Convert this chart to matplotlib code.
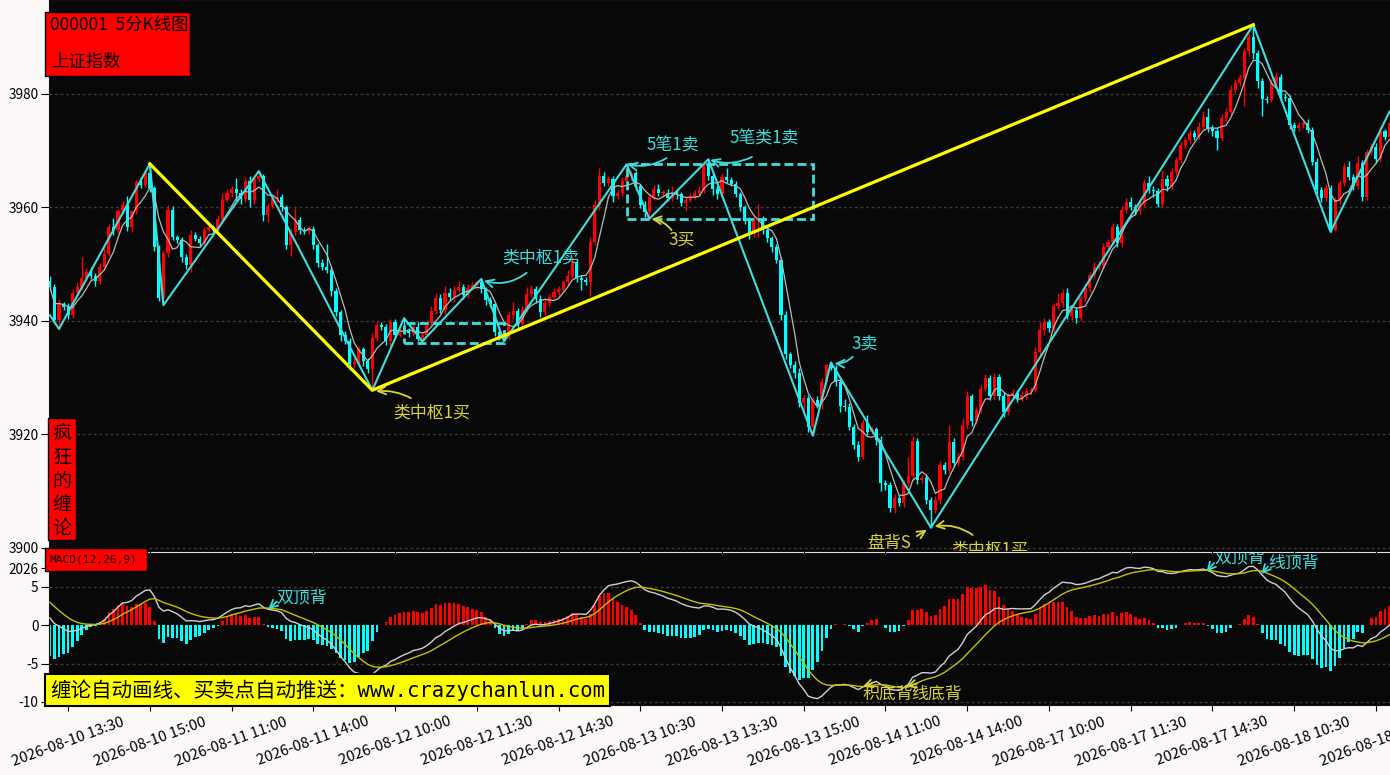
import numpy as np
import pandas as pd
import matplotlib
matplotlib.use("Agg")
import matplotlib.pyplot as plt
from matplotlib.patches import Rectangle

plt.rcParams["font.family"] = ["Noto Sans CJK SC", "DejaVu Sans"]
plt.rcParams["axes.unicode_minus"] = False

# ---- data (5 minute bars, one list per trading day) ----
DAYS = ["2026-08-10", "2026-08-11", "2026-08-12", "2026-08-13",
        "2026-08-14", "2026-08-17", "2026-08-18"]
FIRST_BAR = "2026-08-10 13:10"
FIRST_OPEN = 3947.0

C_0810 = [3946.0, 3940.2, 3943.0, 3942.5, 3941.0, 3945.0, 3946.0, 3947.5, 3948.7, 3948.0,
          3947.0, 3949.6, 3951.8, 3956.6, 3956.0, 3959.3, 3960.4, 3956.5, 3959.3, 3964.5,
          3964.0, 3966.0, 3963.5]
C_0811 = [3953.0, 3944.0, 3952.0, 3959.5, 3954.8, 3954.2, 3951.3, 3949.9, 3955.2, 3954.5,
          3953.8, 3956.0, 3956.5, 3956.0, 3958.0, 3961.3, 3962.5, 3963.2, 3962.6, 3961.5,
          3964.6, 3961.3, 3965.0, 3965.5, 3958.7, 3960.3, 3961.5, 3961.9, 3960.1, 3953.4,
          3955.7, 3957.8, 3956.0, 3955.8, 3956.2, 3953.4, 3950.2, 3949.5, 3949.0, 3945.3,
          3941.6, 3937.5, 3936.5, 3932.5, 3932.8, 3935.0, 3933.0, 3931.5]
C_0812 = [3937.0, 3939.3, 3938.9, 3936.5, 3939.8, 3937.5, 3938.6, 3938.3, 3937.8, 3939.0,
          3936.9, 3937.5, 3939.6, 3941.8, 3944.0, 3941.9, 3945.0, 3944.2, 3945.5, 3946.0,
          3944.6, 3945.8, 3946.3, 3946.9, 3945.6, 3943.7, 3943.0, 3938.0, 3937.0, 3937.3,
          3941.0, 3941.8, 3939.5, 3942.0, 3944.8, 3945.6, 3943.9, 3941.6, 3943.2, 3944.2,
          3945.1, 3945.6, 3946.8, 3948.0, 3950.4, 3947.5, 3947.2, 3946.9]
C_0813 = [3954.0, 3960.4, 3965.5, 3964.3, 3965.0, 3962.0, 3962.5, 3964.6, 3965.5, 3966.1,
          3963.7, 3960.5, 3959.2, 3961.8, 3963.3, 3962.5, 3962.6, 3961.6, 3962.7, 3962.3,
          3960.8, 3961.4, 3961.9, 3962.6, 3963.1, 3967.4, 3965.5, 3963.2, 3962.3, 3965.4,
          3964.8, 3964.1, 3962.4, 3960.0, 3957.7, 3955.3, 3957.8, 3958.0, 3956.0, 3954.6,
          3953.0, 3950.8, 3941.1, 3934.1, 3932.3, 3930.8, 3925.5, 3926.4]
C_0814 = [3921.3, 3926.0, 3925.2, 3929.3, 3932.2, 3931.8, 3929.3, 3925.0, 3924.8, 3921.3,
          3918.2, 3916.1, 3922.0, 3920.5, 3920.9, 3919.0, 3911.4, 3911.1, 3907.1, 3908.8,
          3908.0, 3911.4, 3912.6, 3918.8, 3912.0, 3912.3, 3908.5, 3906.7, 3908.5, 3914.6,
          3913.7, 3918.7, 3914.9, 3916.1, 3921.7, 3926.7, 3922.3, 3924.3, 3928.1, 3929.9,
          3926.7, 3930.2, 3926.7, 3924.0, 3926.7, 3927.3, 3926.4, 3927.0]
C_0817 = [3927.6, 3927.9, 3934.6, 3938.4, 3939.9, 3938.7, 3942.6, 3943.1, 3944.9, 3940.8,
          3941.9, 3940.5, 3944.0, 3945.8, 3948.1, 3949.6, 3949.9, 3953.1, 3954.0, 3956.6,
          3953.7, 3959.6, 3961.0, 3960.1, 3959.3, 3960.7, 3964.3, 3963.1, 3962.9, 3960.7,
          3965.1, 3963.7, 3966.3, 3968.4, 3971.0, 3971.9, 3973.1, 3972.5, 3974.2, 3976.0,
          3974.0, 3973.4, 3972.2, 3975.7, 3976.9, 3980.7, 3981.9, 3982.8]
C_0818 = [3987.5, 3990.1, 3987.2, 3982.2, 3979.2, 3979.0, 3981.9, 3983.0, 3979.5, 3979.3,
          3974.5, 3974.0, 3974.5, 3974.8, 3973.7, 3968.1, 3963.1, 3961.6, 3963.4, 3956.0,
          3961.3, 3964.3, 3967.2, 3965.4, 3963.7, 3967.8, 3961.9, 3969.8, 3970.7, 3968.5,
          3973.4, 3972.5, 3974.8]

# upper / lower shadow lengths (index points)
U_0810 = [1.0, 0.5, 0.8, 0.4, 0.6, 0.5, 0.8, 3.8, 0.6, 0.9, 0.5, 0.7, 1.0, 0.5, 1.5, 0.4,
          0.8, 1.6, 0.3, 0.4, 0.8, 0.5, 1.7]
D_0810 = [0.8, 0.5, 1.6, 0.5, 0.7, 0.4, 0.6, 0.5, 0.4, 0.6, 0.8, 0.5, 0.7, 0.4, 0.9, 0.5,
          0.4, 0.6, 0.8, 0.5, 0.6, 0.4, 0.7]
U_0811 = [0.3, 0.4, 0.5, 0.9, 0.8, 0.4, 0.6, 0.5, 0.9, 0.5, 0.4, 0.6, 0.7, 0.5, 0.6, 1.2,
          0.7, 0.5, 2.0, 0.6, 0.7, 1.0, 0.5, 0.9, 0.4, 0.5, 0.6, 1.3, 0.5, 0.4, 0.6, 2.1,
          0.5, 0.6, 0.5, 0.6, 0.4, 0.7, 4.0, 0.5, 0.6, 0.4, 0.7, 0.5, 0.8, 0.6, 0.5, 0.4]
D_0811 = [0.6, 0.4, 1.2, 0.8, 0.6, 0.5, 0.9, 0.8, 1.2, 0.4, 0.7, 0.5, 0.3, 0.6, 0.4, 0.5,
          0.4, 0.6, 1.5, 0.8, 0.5, 1.2, 0.6, 0.5, 1.0, 1.3, 0.4, 0.5, 0.7, 0.8, 2.0, 0.5,
          0.6, 0.4, 0.5, 0.7, 0.6, 0.5, 0.6, 0.9, 0.8, 1.0, 0.6, 1.2, 0.7, 0.5, 0.9, 0.6]
U_0812 = [0.8, 0.6, 0.5, 0.6, 0.5, 0.5, 0.8, 1.9, 0.5, 0.6, 0.9, 0.6, 0.5, 0.8, 1.0, 0.7,
          1.2, 0.9, 0.7, 1.0, 0.6, 0.8, 0.6, 0.4, 0.5, 0.4, 0.5, 0.4, 0.6, 0.5, 0.7, 1.5,
          0.5, 0.6, 1.2, 0.8, 0.5, 0.6, 0.8, 0.5, 0.7, 0.6, 0.5, 0.9, 1.0, 0.5, 0.6, 0.5]
D_0812 = [3.7, 0.6, 0.5, 0.7, 0.9, 0.6, 0.4, 0.6, 0.7, 0.5, 0.4, 0.5, 0.4, 0.5, 0.6, 0.5,
          0.6, 0.5, 0.8, 0.4, 0.7, 0.5, 0.4, 0.6, 0.6, 0.8, 0.6, 0.7, 0.4, 0.6, 0.4, 0.6,
          0.8, 0.7, 0.5, 0.6, 0.7, 0.9, 0.5, 0.6, 0.4, 0.8, 0.5, 0.4, 0.6, 0.7, 1.8, 0.6]
U_0813 = [0.8, 1.0, 1.5, 0.7, 0.6, 0.5, 0.6, 0.7, 2.1, 0.5, 0.4, 0.5, 0.6, 0.5, 0.6, 0.8,
          0.5, 0.7, 1.0, 0.6, 0.5, 0.4, 0.6, 0.5, 0.7, 0.6, 1.1, 0.5, 0.6, 0.7, 1.5, 0.6,
          0.5, 0.4, 0.5, 0.6, 0.7, 2.7, 0.5, 0.6, 0.4, 0.5, 0.4, 0.6, 0.5, 0.7, 1.0, 0.5]
D_0813 = [2.5, 0.6, 0.8, 0.6, 0.5, 1.0, 0.5, 0.4, 0.5, 0.6, 0.7, 0.6, 0.8, 1.2, 0.4, 0.5,
          0.6, 0.4, 0.5, 0.8, 0.6, 1.5, 0.5, 0.4, 0.5, 0.5, 0.6, 1.0, 0.8, 0.6, 0.5, 0.4,
          0.6, 0.7, 0.6, 0.8, 0.5, 3.0, 0.6, 0.7, 0.8, 0.6, 1.0, 0.8, 0.5, 0.9, 0.6, 1.2]
U_0814 = [0.5, 0.6, 0.7, 0.6, 0.3, 0.5, 0.5, 0.6, 1.2, 0.7, 0.5, 0.6, 0.8, 1.5, 0.6, 0.5,
          0.7, 0.5, 0.6, 0.7, 0.5, 0.6, 3.5, 1.0, 0.5, 0.6, 0.5, 0.5, 0.6, 0.7, 0.5, 3.0,
          0.6, 0.8, 1.2, 1.0, 0.5, 0.6, 0.7, 0.8, 0.5, 0.6, 0.5, 0.7, 0.6, 0.8, 0.5, 0.6]
D_0814 = [0.8, 1.5, 0.5, 0.7, 0.5, 0.4, 0.7, 1.0, 0.6, 0.5, 0.8, 0.7, 0.5, 0.6, 0.5, 0.8,
          1.4, 0.9, 0.8, 1.0, 0.6, 0.7, 0.5, 0.6, 0.8, 0.5, 0.7, 3.1, 0.5, 0.8, 0.6, 0.5,
          0.7, 0.5, 0.6, 0.7, 0.8, 0.5, 0.6, 0.4, 0.7, 0.5, 0.6, 0.9, 0.5, 0.6, 0.7, 0.5]
U_0817 = [0.6, 0.5, 0.8, 1.5, 0.7, 0.5, 0.6, 1.8, 0.7, 1.0, 0.6, 0.5, 0.6, 0.7, 0.5, 0.8,
          0.6, 0.7, 0.5, 0.6, 0.5, 0.7, 0.6, 0.8, 0.5, 0.6, 0.7, 1.2, 0.6, 0.5, 1.5, 0.6,
          0.7, 0.5, 0.8, 0.6, 0.7, 0.5, 0.8, 1.0, 1.5, 0.5, 0.6, 0.7, 0.6, 0.8, 0.7, 0.8]
D_0817 = [0.7, 0.6, 0.5, 0.6, 0.8, 0.6, 0.9, 0.5, 0.6, 0.5, 0.7, 0.8, 0.5, 0.6, 0.7, 0.5,
          0.6, 0.5, 0.8, 0.5, 0.7, 0.6, 0.5, 0.6, 0.7, 0.5, 0.6, 0.5, 1.0, 0.6, 0.7, 0.8,
          0.5, 0.6, 0.5, 0.7, 0.5, 0.6, 0.5, 0.6, 0.7, 0.8, 2.0, 0.5, 0.6, 0.5, 0.6, 0.5]
U_0818 = [0.6, 0.6, 2.1, 0.5, 0.6, 0.5, 0.7, 0.9, 0.5, 0.6, 0.5, 0.6, 0.5, 0.7, 0.8, 0.5,
          0.6, 0.5, 0.7, 0.5, 0.6, 0.5, 0.7, 1.0, 0.5, 1.2, 0.6, 0.5, 0.7, 0.6, 0.8, 0.5, 0.6]
D_0818 = [5.0, 0.8, 1.0, 1.2, 3.0, 0.6, 0.5, 0.6, 0.8, 0.5, 0.7, 0.5, 0.6, 0.5, 0.6, 0.7,
          0.8, 0.6, 0.5, 0.3, 0.2, 0.6, 0.5, 0.6, 0.7, 0.5, 0.8, 0.6, 0.5, 0.7, 0.5, 0.6, 0.5]

# chan lun strokes (bi) and segments (xianduan): bar index / price
BI_IDX = [0, 2, 22, 25, 46, 71, 78, 82, 95, 100, 127, 132, 145, 168, 172, 194, 265, 282, 295]
BI_PRICE = [3941.0, 3938.6, 3967.7, 3942.8, 3966.4, 3927.8, 3940.5, 3936.4, 3947.4, 3936.4,
            3967.6, 3958.0, 3968.5, 3919.8, 3932.7, 3903.6, 3992.2, 3955.7, 3976.9]
XD_IDX = [22, 71, 265]
XD_PRICE = [3967.7, 3927.8, 3992.2]
# pivot boxes: first bar, last bar, low, high
ZS_START = [78, 127]
ZS_END = [100, 168]
ZS_LOW = [3936.2, 3958.0]
ZS_HIGH = [3939.6, 3967.6]

XTICK_LABELS = ["2026-08-10 13:30", "2026-08-10 15:00", "2026-08-11 11:00", "2026-08-11 14:00",
                "2026-08-12 10:00", "2026-08-12 11:30", "2026-08-12 14:30", "2026-08-13 10:30",
                "2026-08-13 13:30", "2026-08-13 15:00", "2026-08-14 11:00", "2026-08-14 14:00",
                "2026-08-17 10:00", "2026-08-17 11:30", "2026-08-17 14:30", "2026-08-18 10:30",
                "2026-08-18 13:30"]

# EMA state just before the first visible bar
EMA12_SEED, EMA26_SEED, DEA_SEED = 3949.0, 3947.7, 3.5

# ---- assemble ----
close = np.array(C_0810 + C_0811 + C_0812 + C_0813 + C_0814 + C_0817 + C_0818)
up = np.array(U_0810 + U_0811 + U_0812 + U_0813 + U_0814 + U_0817 + U_0818)
dn = np.array(D_0810 + D_0811 + D_0812 + D_0813 + D_0814 + D_0817 + D_0818)
n = len(close)
opn = np.r_[FIRST_OPEN, close[:-1]]
high = np.maximum(opn, close) + up
low = np.minimum(opn, close) - dn
idx = np.arange(n)

times = []
for d in DAYS:
    for s, e in (("09:35", "11:30"), ("13:05", "15:00")):
        times += list(pd.date_range(f"{d} {s}", f"{d} {e}", freq="5min"))
times = [t for t in times if t >= pd.Timestamp(FIRST_BAR)][:n]
stamps = [t.strftime("%Y-%m-%d %H:%M") for t in times]
tick_pos = [stamps.index(s) for s in XTICK_LABELS]

ma5 = pd.Series(close).rolling(5, min_periods=1).mean().values

e12, e26, dea = EMA12_SEED, EMA26_SEED, DEA_SEED
dif_l, dea_l = [], []
for c in close:
    e12 += 2 / 13 * (c - e12)
    e26 += 2 / 27 * (c - e26)
    d = e12 - e26
    dea += 2 / 10 * (d - dea)
    dif_l.append(d)
    dea_l.append(dea)
dif = np.array(dif_l)
dea_arr = np.array(dea_l)
hist = 2 * (dif - dea_arr)

# ---- colours ----
BG = "#080808"
RED = "#ff0000"
CYAN = "#00ffff"
BI_C = "#3fdede"
YEL = "#ffff00"
TXT_Y = "#d8d23c"
TXT_C = "#3cdcdc"
GRID = "#3c3c3c"

W, H = 1390, 775
fig = plt.figure(figsize=(13.9, 7.75), dpi=100, facecolor="#fdf9f9")
ax = fig.add_axes([49 / W, 1 - 551 / H, 1 - 49 / W, 551 / H], facecolor=BG)
axm = fig.add_axes([49 / W, 1 - 705 / H, 1 - 49 / W, 152 / H], facecolor=BG, sharex=ax)

# ---- price panel ----
colors = np.where(close >= opn, RED, CYAN)
ax.vlines(idx, low, high, colors=colors, lw=1.0, zorder=2)
body = np.maximum(np.abs(close - opn), 0.18)
ax.bar(idx, body, bottom=np.minimum(opn, close), width=0.68, color=colors,
       linewidth=0, zorder=3)
ax.plot(idx, ma5, color="#b8b8b8", lw=0.9, zorder=4)

for x0, x1, p0, p1 in zip(ZS_START, ZS_END, ZS_LOW, ZS_HIGH):
    ax.add_patch(Rectangle((x0, p0), x1 - x0, p1 - p0, fill=False, ec=BI_C, lw=2.0,
                           ls=(0, (3.2, 1.5)), zorder=5))

ax.plot(BI_IDX, BI_PRICE, color=BI_C, lw=1.5, zorder=5)
ax.plot(XD_IDX, XD_PRICE, color=YEL, lw=2.3, zorder=6)

ax.set_xlim(-0.2, 295.1)
ax.set_ylim(3899.47, 3996.56)
ax.set_yticks([3900, 3920, 3940, 3960, 3980])
ax.grid(axis="y", color=GRID, ls=(0, (2, 2)), lw=1.0)
ax.tick_params(axis="y", direction="out", length=6, pad=1.5, labelsize=9.8, colors="black")
ax.tick_params(axis="x", direction="out", length=3, labelbottom=False)
ax.set_xticks(tick_pos)
for s in ax.spines.values():
    s.set_color("#111111")


def note(axis, text, color, txy, start, end, rad=0.0):
    axis.text(txy[0], txy[1], text, color=color, fontsize=12.2, ha="center", va="center",
              clip_on=True, zorder=8)
    axis.annotate("", xy=end, xytext=start, zorder=8, annotation_clip=False,
                  arrowprops=dict(arrowstyle="->", color=color, lw=1.3, shrinkA=0, shrinkB=0,
                                  mutation_scale=14, connectionstyle=f"arc3,rad={rad}"))


note(ax, "类中枢1买", TXT_Y, (84.1, 3923.8), (79.5, 3926.4), (71.8, 3927.6), 0.15)
note(ax, "类中枢1卖", TXT_C, (108.1, 3951.1), (105.0, 3948.5), (95.6, 3947.1), -0.25)
note(ax, "5笔1卖", TXT_C, (137.2, 3971.0), (135.8, 3968.7), (127.2, 3967.6), -0.2)
note(ax, "5笔类1卖", TXT_C, (157.2, 3972.2), (154.6, 3968.9), (145.4, 3968.4), -0.2)
note(ax, "3买", TXT_Y, (139.1, 3954.3), (136.9, 3956.0), (132.5, 3958.0), 0.2)
note(ax, "3卖", TXT_C, (179.4, 3936.1), (176.8, 3933.7), (172.8, 3932.5), -0.2)
note(ax, "盘背S", TXT_Y, (184.9, 3900.8), (190.9, 3902.1), (193.1, 3903.2), 0.0)
note(ax, "类中枢1买", TXT_Y, (207.0, 3899.7), (203.2, 3902.3), (194.8, 3903.8), 0.2)

# ---- MACD panel ----
axm.bar(idx, hist, width=0.6, color=np.where(hist >= 0, RED, CYAN), linewidth=0, zorder=2)
axm.plot(idx, dif, color="#d0d0d0", lw=1.0, zorder=3)
axm.plot(idx, dea_arr, color="#c4c000", lw=1.0, zorder=3)
for v in (-10, -5, 5):
    axm.axhline(v, color=GRID, ls=(0, (2, 2)), lw=1.0, zorder=1)
axm.set_ylim(-10.4, 9.43)
axm.set_yticks([-10, -5, 0, 5, 7.47])
axm.set_yticklabels(["-10", "-5", "0", "5", "2026"])
axm.tick_params(axis="y", direction="out", length=6, pad=1.5, labelsize=9.8, colors="black")
axm.set_xticks(tick_pos)
axm.set_xticklabels(XTICK_LABELS, rotation=20, ha="center", fontsize=10.8)
axm.tick_params(axis="x", direction="out", length=4, pad=3)
for s in axm.spines.values():
    s.set_color("#111111")

note(axm, "双顶背", TXT_C, (55.5, 3.7), (50.0, 3.1), (48.1, 2.1), 0.0)
note(axm, "积底背", TXT_Y, (184.5, -8.95), (181.0, -7.6), (179.0, -8.0), 0.0)
note(axm, "线底背", TXT_Y, (195.3, -8.95), (190.9, -7.6), (188.6, -8.0), 0.0)
note(axm, "双顶背", TXT_C, (262.0, 8.9), (256.3, 8.1), (254.7, 7.0), 0.0)
note(axm, "线顶背", TXT_C, (273.9, 8.25), (268.2, 7.65), (266.8, 6.7), 0.0)


# ---- label boxes (figure pixels) ----
def fbox(x0, y0, x1, y1, fc, lw=1.0):
    fig.patches.append(Rectangle((x0 / W, 1 - y1 / H), (x1 - x0) / W, (y1 - y0) / H,
                                 transform=fig.transFigure, fc=fc, ec="black", lw=lw, zorder=5))


fbox(45, 12, 190, 76, RED)
fig.text(50 / W, 1 - 25 / H, "000001  5分K线图", fontsize=12.5, va="center", color="black", zorder=6)
fig.text(51 / W, 1 - 62 / H, "上证指数", fontsize=12.5, va="center", color="black", zorder=6)

fbox(48, 418, 76, 540, RED)
for ch, yy in zip("疯狂的缠论", (433, 457, 481, 505, 528)):
    fig.text(62 / W, 1 - yy / H, ch, fontsize=13.8, ha="center", va="center", color="black", zorder=6)

fbox(45, 548, 147, 571, RED)
fig.text(50 / W, 1 - 560 / H, "MACD(12,26,9)", fontsize=8, va="center", color="black",
         family=["DejaVu Sans Mono"], zorder=6)

fbox(45, 674, 610, 706, YEL, lw=1.5)
fig.text(50 / W, 1 - 690 / H, "缠论自动画线、买卖点自动推送：www.crazychanlun.com", fontsize=14.8,
         va="center", color="black", family=["DejaVu Sans Mono", "Noto Sans CJK SC"], zorder=6)

fig.savefig("out.png", dpi=100, facecolor=fig.get_facecolor())
